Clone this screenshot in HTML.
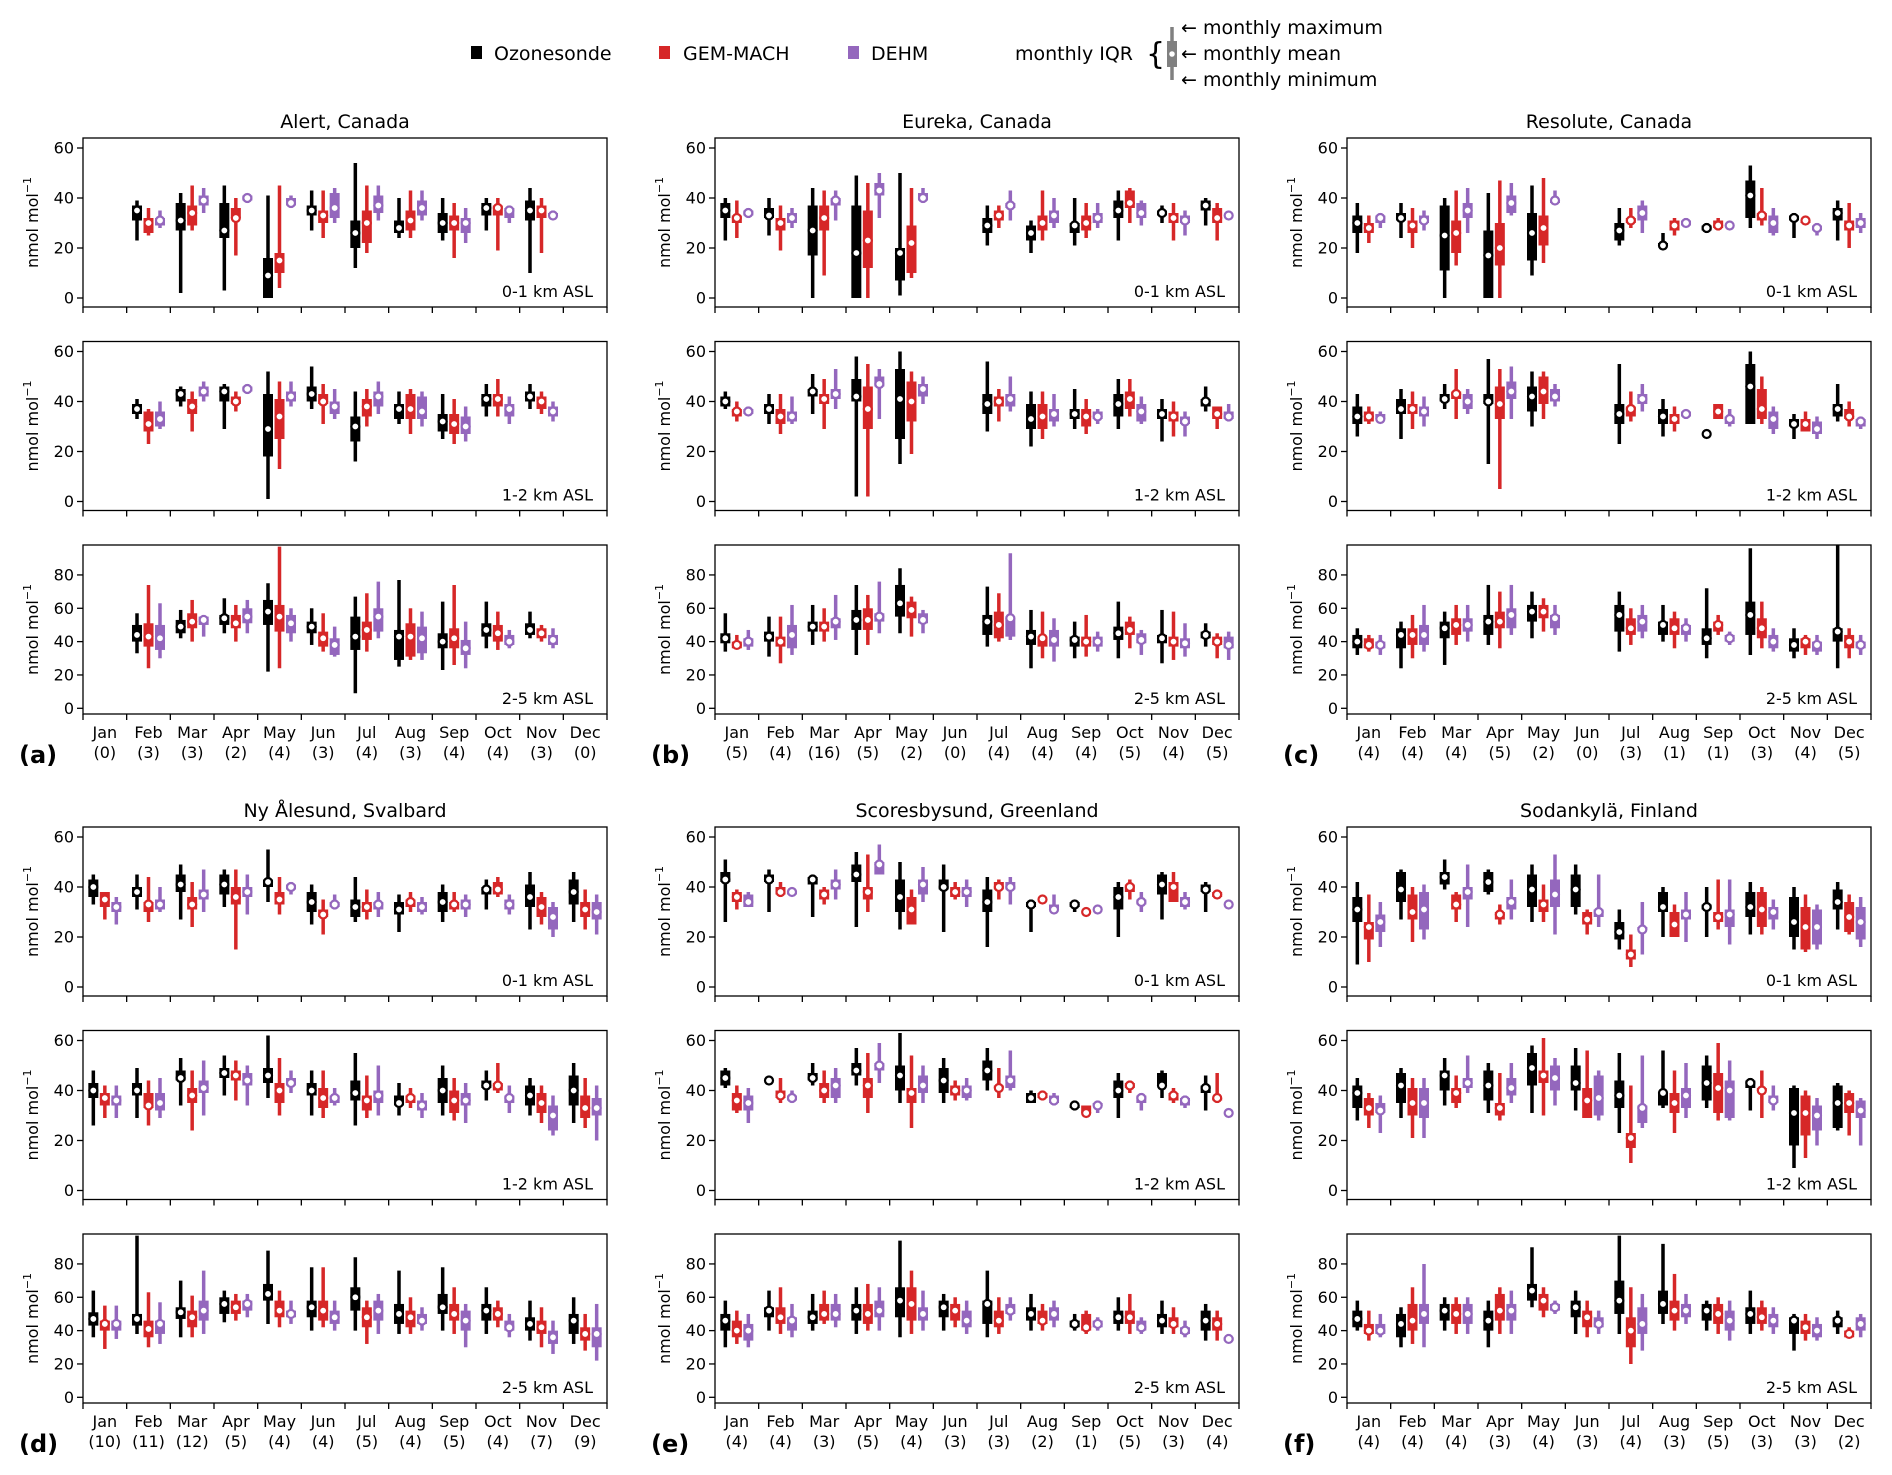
<!DOCTYPE html>
<html><head><meta charset="utf-8"><title>Monthly ozone by station</title>
<style>
html,body{margin:0;padding:0;background:#fff;}
svg{display:block;font-family:"DejaVu Sans","Liberation Sans",sans-serif;}
</style></head>
<body>
<svg id="fig" xmlns="http://www.w3.org/2000/svg" width="1892" height="1475" viewBox="0 0 1892 1475">
  <g>
    <rect x="471" y="46" width="11" height="13" fill="#000"/>
    <text x="494" y="60" font-size="19">Ozonesonde</text>
    <rect x="659" y="46" width="11" height="13" fill="#d62728"/>
    <text x="683" y="60" font-size="19">GEM-MACH</text>
    <rect x="848" y="46" width="11" height="13" fill="#9467bd"/>
    <text x="871" y="60" font-size="19">DEHM</text>
    <text x="1015" y="60" font-size="19">monthly IQR</text>
    <text x="1146" y="64" font-size="30">{</text>
    <line x1="1172" y1="27" x2="1172" y2="80" stroke="#808080" stroke-width="3.5"/>
    <rect x="1167" y="41" width="10" height="26" fill="#808080"/>
    <circle cx="1172" cy="54" r="3.5" fill="#fff" stroke="#808080" stroke-width="1.5"/>
    <text x="1181" y="34" font-size="19">← monthly maximum</text>
    <text x="1181" y="60" font-size="19">← monthly mean</text>
    <text x="1181" y="86" font-size="19">← monthly minimum</text>
  </g>
</svg>
<script>
const months = ["Jan","Feb","Mar","Apr","May","Jun","Jul","Aug","Sep","Oct","Nov","Dec"];
const stationNames = ["Alert, Canada","Eureka, Canada","Resolute, Canada","Ny Ålesund, Svalbard","Scoresbysund, Greenland","Sodankylä, Finland"];
const panelLetters = ["(a)","(b)","(c)","(d)","(e)","(f)"];
const layerLabels = ["0-1 km ASL","1-2 km ASL","2-5 km ASL"];
const ticksLow = [0,20,40,60];
const ticksHigh = [0,20,40,60,80];
const countsAlert = [0,3,3,2,4,3,4,3,4,4,3,0];
const countsEureka = [5,4,16,5,2,0,4,4,4,5,4,5];
const countsResolute = [4,4,4,5,2,0,3,1,1,3,4,5];
const countsNy = [10,11,12,5,4,4,5,4,5,4,7,9];
const countsScores = [4,4,3,5,4,3,3,2,1,5,3,4];
const countsSod = [4,4,4,3,4,3,4,3,5,3,3,2];

// each entry: "min,q1,mean,q3,max" (nmol/mol); "" = no data
const alert01Sonde = ["","23,31,35,37,39","2,27,31,38,42","3,24,27,38,45","0,0,9,16,41","27,33,35,37,43","12,20,26,31,54","24,26,28,31,40","23,26,30,34,40","27,33,36,38,40","10,31,35,39,44",""];
const alert01Gem = ["","25,26,30,32,36","27,29,34,37,45","17,32,32,36,40","4,10,15,18,45","24,30,33,35,43","18,22,30,35,45","24,27,31,35,43","16,27,30,33,38","19,33,36,37,40","18,32,35,37,40",""];
const alert01Dehm = ["","28,29,31,32,35","34,37,39,41,44","38,39,40,41,41","36,37,38,40,41","30,32,36,42,44","31,34,37,41,45","31,33,36,39,43","22,26,30,32,36","30,32,35,36,37","32,33,33,34,35",""];
const alert12Sonde = ["","33,35,37,39,41","38,40,43,45,46","29,40,44,46,47","1,18,29,43,52","37,40,43,46,54","16,24,30,34,44","31,33,37,39,44","25,28,32,35,43","34,38,41,43,47","37,40,42,44,47",""];
const alert12Gem = ["","23,28,31,36,37","28,35,38,41,44","36,39,40,42,44","13,25,34,41,48","31,39,40,43,47","30,34,38,41,45","27,33,37,43,45","23,27,31,35,41","34,38,41,43,49","35,37,40,42,44",""];
const alert12Dehm = ["","29,30,33,36,40","40,42,44,46,48","43,44,45,46,47","38,40,42,44,48","33,35,38,40,45","35,38,42,44,48","30,33,36,42,44","24,27,30,34,38","31,34,37,39,42","32,34,36,38,40",""];
const alert25Sonde = ["","33,40,44,50,57","42,45,49,53,59","45,50,54,56,66","22,50,58,65,75","38,45,49,52,60","9,35,43,55,67","25,29,43,47,77","23,36,40,45,64","36,43,47,51,64","42,44,47,51,58",""];
const alert25Gem = ["","24,37,43,51,74","40,48,52,57,65","40,48,51,56,62","24,46,55,62,97","34,37,42,46,57","34,41,47,52,69","29,31,43,51,60","26,36,42,48,74","35,40,45,50,58","40,42,45,48,50",""];
const alert25Dehm = ["","30,35,42,50,63","43,50,53,55,56","45,51,55,60,65","40,45,51,56,60","31,32,38,42,49","42,46,55,60,76","29,33,42,49,58","24,32,36,41,52","36,38,40,44,47","36,38,41,44,48",""];

const eureka01Sonde = ["23,32,35,38,40","25,32,33,36,40","0,17,27,37,44","0,0,18,37,49","1,7,18,20,50","","21,26,29,32,37","18,23,26,29,31","21,26,29,30,40","23,32,35,39,43","30,33,34,35,37","29,35,37,39,40"];
const eureka01Gem = ["24,30,32,33,39","19,27,30,32,37","9,27,32,37,43","0,12,23,35,46","8,10,22,29,44","","28,31,33,35,37","23,27,30,33,43","24,27,30,33,38","30,36,38,43,44","23,30,32,34,38","23,30,32,36,38"];
const eureka01Dehm = ["32,33,34,35,36","28,30,32,34,36","31,37,39,40,43","32,41,43,46,50","38,39,40,42,44","","31,36,37,38,43","28,30,33,35,40","28,30,32,34,38","29,32,34,38,39","25,30,31,33,35","32,33,33,33,34"];
const eureka12Sonde = ["37,38,40,42,44","31,35,37,39,43","35,42,44,45,51","2,40,42,49,58","15,25,41,53,60","","28,35,39,43,56","22,29,33,39,44","29,33,35,37,45","29,34,39,43,49","24,33,35,37,41","36,38,40,41,46"];
const eureka12Gem = ["32,34,36,37,40","27,31,34,37,43","29,39,41,43,49","2,29,37,46,55","19,32,40,48,52","","32,38,40,42,45","25,29,34,39,44","27,30,34,37,41","34,37,41,44,49","26,32,34,36,40","29,33,35,38,38"];
const eureka12Dehm = ["35,35,36,37,38","31,32,34,36,42","37,41,43,45,53","33,46,47,50,53","39,42,45,47,50","","36,38,41,43,50","30,32,35,37,43","31,33,34,36,37","31,32,36,39,42","26,31,32,34,36","32,33,34,36,39"];
const eureka25Sonde = ["34,39,42,45,57","31,40,43,46,55","38,46,49,52,62","32,47,53,59,74","45,55,63,74,84","","37,44,52,56,73","24,38,43,47,59","30,37,41,43,52","30,41,45,49,64","27,39,42,44,59","37,42,44,46,51"];
const eureka25Gem = ["36,36,38,40,44","27,37,40,43,55","40,46,49,52,60","38,47,53,60,68","43,54,59,64,67","","40,42,50,58,69","30,37,42,43,58","31,37,40,43,56","36,44,47,52,55","29,37,40,43,58","30,38,40,43,45"];
const eureka25Dehm = ["35,37,40,42,47","32,36,44,50,62","41,48,52,54,68","45,52,55,57,76","45,51,53,57,59","","41,43,54,54,93","28,37,41,47,54","34,37,40,43,46","32,39,41,45,47","31,36,39,42,51","29,36,38,43,46"];

const resolute01Sonde = ["18,26,30,33,38","24,31,32,34,38","0,11,25,37,40","0,0,17,27,42","9,15,26,34,45","","21,23,27,30,36","21,21,21,22,26","26,27,28,29,30","28,32,41,47,53","24,31,32,33,34","23,31,34,36,39"];
const resolute01Gem = ["22,26,28,30,33","20,26,29,31,36","13,18,26,31,43","0,13,20,30,47","14,21,28,33,48","","28,30,31,32,36","25,27,29,31,32","27,28,29,31,32","29,31,33,34,44","30,30,31,31,32","20,27,29,31,38"];
const resolute01Dehm = ["28,30,32,33,34","27,30,31,33,35","26,32,35,38,44","33,34,38,41,46","38,38,39,39,43","","26,31,34,37,39","29,29,30,31,32","29,29,29,29,29","25,26,30,33,36","25,27,28,29,30","26,28,30,32,34"];
const resolute12Sonde = ["26,31,34,38,43","25,35,37,41,45","37,40,41,43,47","15,39,40,43,57","30,36,42,46,52","","23,31,35,39,55","26,31,34,37,41","27,27,27,27,27","31,31,46,55,60","25,30,31,33,35","32,34,37,39,47"];
const resolute12Gem = ["31,32,34,36,38","29,35,37,39,44","33,41,43,44,53","5,33,39,46,53","33,39,44,50,52","","32,34,37,38,44","28,31,33,35,38","33,33,36,39,39","31,33,37,45,50","28,28,31,33,36","30,33,34,37,40"];
const resolute12Dehm = ["32,33,33,35,36","30,34,36,38,42","35,37,40,43,45","33,41,44,48,54","38,40,42,45,47","","36,39,41,43,47","33,34,35,36,36","30,31,33,34,37","27,29,33,36,38","25,27,29,32,34","29,30,32,33,34"];
const resolute25Sonde = ["32,36,40,44,48","24,36,44,48,52","26,42,48,52,58","38,44,52,56,74","42,52,58,62,70","","34,46,56,62,70","40,44,50,52,62","30,38,42,48,72","32,44,56,64,96","30,34,38,42,48","24,40,46,48,98"];
const resolute25Gem = ["34,36,38,42,44","30,38,44,48,56","38,44,50,54,62","36,48,52,58,70","46,54,58,62,66","","38,44,48,54,60","36,44,48,54,58","44,46,50,52,56","36,42,48,54,64","32,36,40,42,44","30,36,40,44,48"];
const resolute25Dehm = ["32,36,38,40,44","34,38,44,50,62","40,46,50,54,62","44,48,56,60,74","44,48,54,56,62","","42,46,52,56,62","40,44,48,50,54","38,40,42,44,46","34,36,40,44,48","32,34,38,40,44","32,36,38,40,44"];

const ny01Sonde = ["33,36,40,43,45","31,36,38,40,45","27,38,41,45,49","32,37,41,45,47","34,40,42,43,55","25,30,34,38,41","26,28,32,35,44","22,29,31,34,37","26,30,34,38,41","31,37,39,40,43","23,32,36,41,46","26,33,38,43,46"];
const ny01Gem = ["27,32,35,38,38","26,30,33,34,44","24,31,33,36,42","15,33,36,40,47","29,33,35,38,44","21,28,29,31,35","27,30,32,34,39","30,32,34,35,38","30,31,33,34,38","36,37,39,42,44","25,28,32,36,38","23,28,31,34,39"];
const ny01Dehm = ["25,30,32,34,36","30,31,33,35,40","30,35,37,39,47","29,36,38,40,45","37,39,40,41,42","31,32,33,34,37","28,31,33,34,38","29,30,32,34,36","28,31,33,35,37","29,31,33,35,37","20,23,28,32,34","21,27,30,34,37"];
const ny12Sonde = ["26,37,40,43,48","29,38,40,43,49","34,44,45,48,53","38,45,47,49,54","37,43,46,49,62","30,38,40,43,48","26,36,39,44,55","30,34,35,38,43","30,35,40,45,50","36,41,42,44,48","30,34,38,42,45","27,34,40,46,51"];
const ny12Gem = ["29,34,37,39,42","26,33,34,39,44","24,35,38,41,48","36,44,46,48,52","30,35,40,43,53","29,33,37,41,48","29,32,36,38,46","33,35,37,38,41","28,31,36,40,45","39,40,42,43,51","27,31,35,39,42","25,29,33,38,45"];
const ny12Dehm = ["29,34,36,38,42","29,32,35,39,45","30,39,41,44,52","34,42,44,47,50","39,42,43,45,48","34,35,37,38,41","30,35,38,40,50","29,32,34,36,39","27,34,36,39,43","31,35,37,38,42","22,24,30,34,38","20,30,33,37,42"];
const ny25Sonde = ["36,43,47,51,64","38,43,47,50,97","36,47,51,54,70","45,50,56,60,64","44,58,62,68,88","40,48,54,58,78","40,52,60,66,84","38,44,50,56,76","40,50,54,62,78","38,46,52,56,66","34,40,44,48,58","32,38,46,50,60"];
const ny25Gem = ["29,40,44,46,55","30,36,41,46,63","36,42,48,52,61","46,50,54,58,62","42,48,52,58,64","42,46,52,58,78","32,42,48,54,58","38,42,48,52,60","38,46,50,56,66","42,46,50,54,58","30,38,42,46,54","28,34,38,42,50"];
const ny25Dehm = ["35,40,44,46,55","32,38,44,46,57","38,46,52,58,76","48,52,56,58,62","44,48,50,52,58","40,44,48,52,58","38,46,52,58,62","40,44,46,50,54","30,40,46,52,56","36,40,42,46,50","26,32,36,40,46","22,30,38,42,56"];

const scores01Sonde = ["26,42,43,46,51","30,42,43,45,47","28,41,43,44,45","24,42,45,49,54","23,30,36,43,50","22,39,40,43,49","16,30,34,39,44","22,32,33,34,35","30,32,33,34,34","20,31,36,40,42","27,37,41,45,46","30,38,39,41,42"];
const scores01Gem = ["31,34,36,38,39","36,37,38,40,42","33,35,37,39,40","30,35,38,40,53","31,25,31,36,39","35,36,38,40,42","35,39,40,42,43","35,35,35,35,35","30,30,30,30,30","35,38,40,41,43","34,34,40,42,46","36,36,37,38,38"];
const scores01Dehm = ["32,32,34,37,38","37,37,38,38,38","35,39,41,43,47","45,45,49,50,57","34,37,41,43,48","32,36,38,40,43","33,39,40,42,44","30,31,31,33,37","31,31,31,31,31","30,33,34,35,38","31,32,34,36,38","33,33,33,33,33"];
const scores12Sonde = ["41,42,45,48,49","44,44,44,44,44","42,44,45,47,51","42,46,48,51,57","35,40,46,50,63","35,39,44,49,53","40,44,48,52,57","35,35,37,39,40","32,33,34,34,36","29,37,40,44,47","37,42,42,47,48","32,39,41,42,46"];
const scores12Gem = ["31,32,36,39,42","35,37,38,40,45","35,37,40,43,48","31,37,42,45,55","25,35,39,41,54","36,38,40,42,44","37,41,41,42,49","36,37,38,39,40","30,31,31,34,34","39,41,42,43,44","35,36,38,39,41","35,36,37,37,47"];
const scores12Dehm = ["27,32,35,38,41","35,36,37,38,40","35,37,42,45,49","43,48,50,51,59","35,39,42,46,50","36,37,40,42,45","40,41,44,46,56","34,35,36,38,39","31,34,34,35,36","32,35,37,38,39","33,34,36,37,38","31,31,31,31,31"];
const scores25Sonde = ["30,40,46,50,58","40,48,52,54,64","40,44,48,52,62","38,46,52,56,66","36,48,58,66,94","40,48,54,58,62","36,44,56,58,76","40,46,50,54,62","40,42,44,46,50","40,44,48,52,60","38,42,46,50,58","34,40,46,52,56"];
const scores25Gem = ["32,36,40,46,52","38,44,48,54,66","44,46,50,56,64","40,44,50,56,68","38,46,56,66,76","42,46,52,56,60","38,42,46,52,60","40,44,46,52,56","38,40,42,50,52","38,44,48,52,62","38,42,44,48,54","34,40,44,48,52"];
const scores25Dehm = ["30,34,40,44,50","36,40,46,48,56","42,46,50,56,62","40,48,52,58,66","40,46,50,54,64","38,42,46,52,58","46,50,52,56,60","42,46,50,54,58","40,42,44,46,48","38,40,42,46,48","36,38,40,42,46","34,34,35,36,38"];

const sod01Sonde = ["9,26,31,36,42","27,34,39,46,47","39,41,44,46,51","37,38,42,46,47","26,32,39,45,49","29,32,39,45,49","15,19,22,26,31","20,30,32,38,40","20,31,32,33,40","21,28,32,38,42","15,20,26,36,40","23,31,34,39,42"];
const sod01Gem = ["10,19,24,26,37","18,27,30,37,40","26,31,33,37,38","25,27,29,30,33","26,30,33,35,41","21,25,27,30,31","8,11,13,15,21","20,20,25,30,33","23,26,28,30,43","21,24,31,38,40","14,15,24,32,37","21,22,28,34,37"];
const sod01Dehm = ["16,22,26,29,34","19,23,31,38,41","24,35,38,40,49","27,31,34,36,43","21,32,37,43,53","24,28,30,31,45","13,23,23,24,34","18,27,29,31,38","17,24,29,31,43","23,27,30,32,35","15,17,24,31,33","16,19,26,32,36"];
const sod12Sonde = ["28,33,39,42,45","29,35,42,47,49","34,40,46,48,53","31,36,42,48,51","31,42,49,55,58","32,40,43,50,57","23,33,38,44,55","33,34,39,39,56","33,36,43,50,54","32,41,43,44,45","9,18,31,41,42","24,25,35,42,43"];
const sod12Gem = ["25,30,33,37,39","21,30,35,41,45","33,35,39,41,46","28,30,33,35,47","30,43,46,48,61","29,29,36,41,56","11,17,21,23,42","23,31,35,39,48","28,31,41,47,59","29,40,40,41,48","13,22,31,38,40","22,31,35,39,40"];
const sod12Dehm = ["23,31,32,35,38","21,29,35,41,45","39,41,43,45,54","35,38,41,45,51","34,40,45,50,53","28,30,37,46,48","25,27,33,34,54","29,33,38,41,51","28,29,40,44,52","32,35,36,38,42","18,24,30,34,37","18,29,32,36,37"];
const sod25Sonde = ["40,42,47,52,58","30,36,44,50,54","40,46,52,56,60","30,40,46,52,58","54,58,64,68,90","38,48,54,58,64","38,50,58,70,97","44,50,56,64,92","40,46,52,56,58","38,44,50,54,64","28,38,46,48,50","38,42,46,48,52"];
const sod25Gem = ["34,38,40,44,52","32,40,46,56,66","38,44,50,56,60","38,46,52,62,66","48,52,58,62,66","36,42,48,52,58","20,30,40,48,66","40,46,52,58,74","38,44,50,56,60","40,44,48,54,58","34,38,42,46,50","36,36,38,40,42"];
const sod25Dehm = ["36,38,40,44,50","30,44,50,56,80","38,44,50,56,60","38,46,52,56,64","50,52,54,56,58","38,42,44,48,52","28,38,44,54,62","44,48,52,56,62","34,40,46,52,58","38,42,46,50,54","34,36,40,44,48","36,40,44,48,50"];

const stationCounts = [countsAlert,countsEureka,countsResolute,countsNy,countsScores,countsSod];
const stationSeries = [
  [[alert01Sonde,alert01Gem,alert01Dehm],[alert12Sonde,alert12Gem,alert12Dehm],[alert25Sonde,alert25Gem,alert25Dehm]],
  [[eureka01Sonde,eureka01Gem,eureka01Dehm],[eureka12Sonde,eureka12Gem,eureka12Dehm],[eureka25Sonde,eureka25Gem,eureka25Dehm]],
  [[resolute01Sonde,resolute01Gem,resolute01Dehm],[resolute12Sonde,resolute12Gem,resolute12Dehm],[resolute25Sonde,resolute25Gem,resolute25Dehm]],
  [[ny01Sonde,ny01Gem,ny01Dehm],[ny12Sonde,ny12Gem,ny12Dehm],[ny25Sonde,ny25Gem,ny25Dehm]],
  [[scores01Sonde,scores01Gem,scores01Dehm],[scores12Sonde,scores12Gem,scores12Dehm],[scores25Sonde,scores25Gem,scores25Dehm]],
  [[sod01Sonde,sod01Gem,sod01Dehm],[sod12Sonde,sod12Gem,sod12Dehm],[sod25Sonde,sod25Gem,sod25Dehm]]
];
const seriesNames = ["ozonesonde","gem-mach","dehm"];
const seriesColors = ["#000000","#d62728","#9467bd"];

const NS = "http://www.w3.org/2000/svg";
const svg = document.getElementById("fig");
const PW = 524, PH = 169;
const colLeft = [83, 715, 1347];
const rowTop = [138, 341.5, 545];
const groupOffset = 689;
const MW = PW / 12;
const seriesOffset = [-11.5, 0, 11.5];

function mk(tag, attrs, parent) {
  const e = document.createElementNS(NS, tag);
  for (const k in attrs) e.setAttribute(k, attrs[k]);
  (parent || svg).appendChild(e);
  return e;
}
function yScale(row, top) {
  if (row < 2) { const zero = top + 160, k = 2.5; return v => zero - v * k; }
  const zero = top + 163.3, k = 1.667; return v => zero - v * k;
}
function xScale(left) { return m => left + MW * (m + 0.5); }

for (let s = 0; s < 6; s++) {
  const col = s % 3, grp = Math.floor(s / 3);
  const left = colLeft[col];
  const xm = xScale(left);
  const station = mk("g", {});
  
  
  for (let r = 0; r < 3; r++) {
    const top = rowTop[r] + grp * groupOffset;
    const ys = yScale(r, top);
    const panel = mk("g", {}, station);
    
    
    if (r === 0) {
      const t = mk("text", {x: left + PW / 2, y: top - 10, "font-size": 19, "text-anchor": "middle"}, panel);
      
      
      t.textContent = stationNames[s];
    }
    const ticks = r < 2 ? ticksLow : ticksHigh;
    ticks.forEach(v => {
      const tl = mk("line", {x1: left - 6, x2: left, y1: ys(v), y2: ys(v), stroke: "#000", "stroke-width": 1.3}, panel);
      
      
      const tt = mk("text", {x: left - 9, y: ys(v) + 5.5, "font-size": 16, "text-anchor": "end"}, panel);
      
      
      tt.textContent = v;
    });
    const yl = mk("text", {transform: `translate(${left - 45},${top + PH / 2}) rotate(-90)`, "font-size": 16, "text-anchor": "middle"}, panel);
    
    
    yl.innerHTML = 'nmol mol<tspan dy="-7" font-size="11">−1</tspan>';
    for (let k = 0; k <= 12; k++) {
      const xt = mk("line", {x1: left + k * MW, x2: left + k * MW, y1: top + PH, y2: top + PH + 6, stroke: "#000", "stroke-width": 1.3}, panel);
      
      
    }
    for (let q = 0; q < 3; q++) {
      const arr = stationSeries[s][r][q];
      for (let m = 0; m < 12; m++) {
        if (!arr[m]) continue;
        const v = arr[m].split(",").map(Number);
        const cx = xm(m) + seriesOffset[q];
        const c = seriesColors[q];
        const g = mk("g", {}, panel);
        
        
        const lo = Math.min(v[0], v[4]), hi = Math.max(v[0], v[4]);
        if (hi > lo) mk("line", {x1: cx, x2: cx, y1: ys(lo), y2: ys(hi), stroke: c, "stroke-width": 3.5}, g);
        const b1 = Math.min(v[1], v[3]), b2 = Math.max(v[1], v[3]);
        if (b2 > b1) mk("rect", {x: cx - 5, y: ys(b2), width: 10, height: ys(b1) - ys(b2), fill: c}, g);
        mk("circle", {cx: cx, cy: ys(v[2]), r: 4, fill: "#fff", stroke: c, "stroke-width": 2.2}, g);
      }
    }
    const fr = mk("rect", {x: left, y: top, width: PW, height: PH, fill: "none", stroke: "#000", "stroke-width": 1.3}, panel);
    
    
    const al = mk("text", {x: left + PW - 14, y: top + PH - 10, "font-size": 16, "text-anchor": "end"}, panel);
    
    
    al.textContent = layerLabels[r];
    if (r === 2) {
      for (let m = 0; m < 12; m++) {
        const ml = mk("text", {x: xm(m), y: top + PH + 24, "font-size": 16, "text-anchor": "middle"}, panel);
        
        
        ml.textContent = months[m];
        const cl = mk("text", {x: xm(m), y: top + PH + 44, "font-size": 16, "text-anchor": "middle"}, panel);
        
        
        cl.textContent = "(" + stationCounts[s][m] + ")";
      }
      const pl = mk("text", {x: left - 64, y: top + PH + 49, "font-size": 24, "font-weight": "bold"}, panel);
      
      
      pl.textContent = panelLetters[s];
    }
  }
}
</script>
</body></html>
